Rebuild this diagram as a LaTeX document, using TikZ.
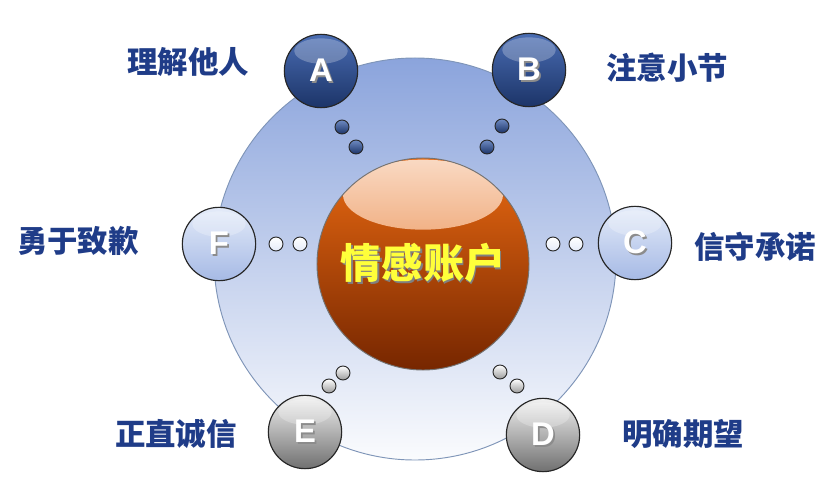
\documentclass[tikz,border=0pt]{standalone}
\usepackage{fontspec}
\setsansfont{Liberation Sans}
\newfontfamily\cjk{Noto Sans CJK SC}
\usetikzlibrary{shapes,positioning}

\definecolor{labelblue}{HTML}{1F3C88}
\definecolor{disctop}{HTML}{8BA4DC}
\definecolor{discmid}{HTML}{C6D4EF}
\definecolor{discline}{HTML}{7F95B8}
\definecolor{navytop}{HTML}{4A6DB3}
\definecolor{navybot}{HTML}{1C3468}
\definecolor{paletop}{HTML}{E4EBF9}
\definecolor{palebot}{HTML}{A6BAE5}
\definecolor{greytop}{HTML}{F2F2F2}
\definecolor{greybot}{HTML}{707070}
\definecolor{orbtop}{HTML}{EA6A12}
\definecolor{orbbot}{HTML}{762600}
\definecolor{orbtext}{HTML}{FFFF3A}

% letter with a soft drop shadow
\newcommand{\shtxt}[2][black!45]{\makebox[0pt][l]{\kern1.5pt\raisebox{-1.5pt}{\textcolor{#1}{#2}}}#2}

\begin{document}
\begin{tikzpicture}
        [
            x=0.03cm, y=-0.03cm,
            disc/.style={circle, draw=discline, line width=0.8pt, minimum size=12.06cm,
                top color=disctop, middle color=discmid, bottom color=white!96!disctop},
            ball/.style={circle, draw=black!85, line width=1pt, minimum size=2.2cm, inner sep=0pt,
                text=white, font=\sffamily\bfseries\fontsize{28}{30}\selectfont,
                path picture={\fill[white, opacity=0.25]
                    ([yshift=-0.5cm]path picture bounding box.north) ellipse (0.8cm and 0.38cm);}},
            navyball/.style={ball, top color=navytop, bottom color=navybot},
            paleball/.style={ball, top color=paletop, bottom color=palebot},
            greyball/.style={ball, top color=greytop, bottom color=greybot},
            dot/.style={circle, draw=black!85, line width=0.8pt, minimum size=0.42cm, inner sep=0pt},
            navydot/.style={dot, top color=navytop!80!white, bottom color=navybot},
            paledot/.style={dot, top color=white, bottom color=paletop},
            greydot/.style={dot, top color=white, bottom color=greybot!70!white},
            orb/.style={circle, draw=black!55, line width=0.8pt, minimum size=6.36cm, inner sep=0pt,
                top color=orbtop, bottom color=orbbot, text=orbtext,
                font=\cjk\bfseries\fontsize{35}{40}\selectfont,
                path picture={\shade[top color=white!75!orbtop, bottom color=orbtop!92!orbbot]
                    ([yshift=-1.1cm]path picture bounding box.north) ellipse (2.4cm and 1.05cm);}},
            tag/.style={text=labelblue, font=\cjk\bfseries\fontsize{26}{30}\selectfont},
        ]
            \useasboundingbox (0,0) rectangle (826,503);

            \node[disc] (disc) at (415,259) {};

            \node[navydot] (dA1) at (342,127) {};
            \node[navydot] (dA2) at (356,147) {};
            \node[navydot] (dB1) at (502,126) {};
            \node[navydot] (dB2) at (487,147) {};
            \node[paledot] (dC1) at (553,244) {};
            \node[paledot] (dC2) at (576,244) {};
            \node[greydot] (dD1) at (500,372) {};
            \node[greydot] (dD2) at (517,386) {};
            \node[greydot] (dE1) at (343,373) {};
            \node[greydot] (dE2) at (329,386) {};
            \node[paledot] (dF1) at (276,244) {};
            \node[paledot] (dF2) at (300,244) {};

            \node[navyball] (A) at (321,71) {\shtxt{A}};
            \node[navyball] (B) at (529,70) {\shtxt{B}};
            \node[paleball] (C) at (635,243) {\shtxt{C}};
            \node[greyball] (D) at (543,435) {\shtxt{D}};
            \node[greyball] (E) at (305,432) {\shtxt{E}};
            \node[paleball] (F) at (219,244) {\shtxt{F}};

            \node[orb] (acct) at (423,264) {\shtxt[black!50]{情感账户}};

            \node[tag] (tA) at (188,62) {理解他人};
            \node[tag] (tB) at (667,68) {注意小节};
            \node[tag] (tC) at (755,247) {信守承诺};
            \node[tag] (tD) at (683,434) {明确期望};
            \node[tag] (tE) at (176,434) {正直诚信};
            \node[tag] (tF) at (78,241) {勇于致歉};
        \end{tikzpicture}
\end{document}
